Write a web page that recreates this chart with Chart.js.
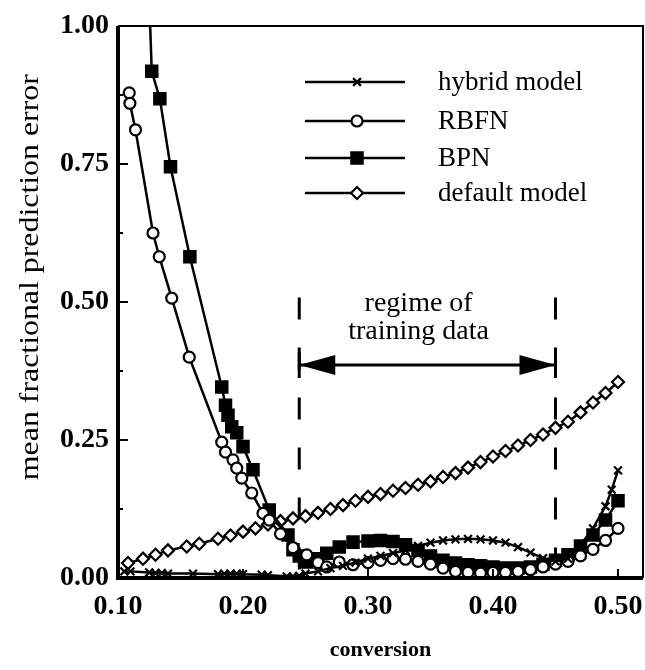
<!DOCTYPE html>
<html>
<head>
<meta charset="utf-8">
<script src="https://cdn.jsdelivr.net/npm/chart.js@4.4.0/dist/chart.umd.min.js"></script>
<style>
html, body { margin: 0; padding: 0; background: #fff; }
</style>
</head>
<body>
<canvas id="chart" width="645" height="670"></canvas>
<script>
// conversion values (x) and mean fractional prediction error (y)
let hybridX = [0.105, 0.11, 0.125, 0.13, 0.135, 0.14, 0.16, 0.18, 0.185, 0.19, 0.195, 0.20, 0.215, 0.22, 0.235, 0.24, 0.245,
    0.25, 0.26, 0.27, 0.28, 0.29, 0.30, 0.31, 0.32, 0.33, 0.34, 0.35, 0.36, 0.37, 0.38, 0.39, 0.40, 0.41, 0.42, 0.43, 0.44,
    0.45, 0.46, 0.47, 0.48, 0.49, 0.495, 0.50];
let hybridY = [0.012, 0.012, 0.010, 0.009, 0.009, 0.008, 0.008, 0.007, 0.008, 0.008, 0.008, 0.007, 0.006, 0.005, 0.003, 0.003, 0.004,
    0.008, 0.012, 0.018, 0.022, 0.028, 0.035, 0.040, 0.045, 0.050, 0.058, 0.064, 0.068, 0.070, 0.071, 0.070, 0.068, 0.064, 0.056, 0.046, 0.036,
    0.030, 0.035, 0.060, 0.090, 0.130, 0.160, 0.195];

let rbfnX = [0.109, 0.1095, 0.114, 0.128, 0.133, 0.143, 0.157, 0.183, 0.186, 0.192, 0.195, 0.199, 0.207, 0.216, 0.221, 0.23, 0.24,
    0.251, 0.26, 0.267, 0.277, 0.288, 0.30, 0.31, 0.32, 0.33, 0.34, 0.35, 0.36, 0.37, 0.38, 0.39, 0.40, 0.41, 0.42, 0.43, 0.44,
    0.45, 0.46, 0.47, 0.48, 0.49, 0.50];
let rbfnY = [0.879, 0.860, 0.812, 0.625, 0.582, 0.507, 0.400, 0.246, 0.228, 0.214, 0.199, 0.181, 0.154, 0.117, 0.105, 0.080, 0.055,
    0.042, 0.028, 0.020, 0.029, 0.024, 0.028, 0.032, 0.035, 0.034, 0.030, 0.025, 0.018, 0.012, 0.010, 0.009, 0.010, 0.010, 0.012, 0.015, 0.020,
    0.025, 0.030, 0.040, 0.052, 0.068, 0.090];

let bpnX = [0.1245, 0.127, 0.1335, 0.142, 0.1575, 0.183, 0.186, 0.188, 0.191, 0.195, 0.200, 0.208, 0.221, 0.236, 0.240, 0.245,
    0.251, 0.26, 0.267, 0.277, 0.288, 0.30, 0.31, 0.32, 0.33, 0.34, 0.35, 0.36, 0.37, 0.38, 0.39, 0.40, 0.41, 0.42, 0.43, 0.44,
    0.45, 0.46, 0.47, 0.48, 0.49, 0.50];
let bpnY = [1.08, 0.918, 0.868, 0.745, 0.582, 0.346, 0.313, 0.295, 0.274, 0.263, 0.238, 0.196, 0.123, 0.078, 0.051, 0.040,
    0.029, 0.035, 0.045, 0.056, 0.065, 0.067, 0.068, 0.066, 0.060, 0.050, 0.040, 0.032, 0.027, 0.024, 0.022, 0.020, 0.018, 0.018, 0.020, 0.025,
    0.032, 0.042, 0.058, 0.078, 0.105, 0.140];

let defaultX = [0.108, 0.12, 0.13, 0.14, 0.155, 0.165, 0.18, 0.19, 0.20, 0.21, 0.22, 0.23, 0.24, 0.25, 0.26, 0.27, 0.28, 0.29,
    0.30, 0.31, 0.32, 0.33, 0.34, 0.35, 0.36, 0.37, 0.38, 0.39, 0.40, 0.41, 0.42, 0.43, 0.44, 0.45, 0.46, 0.47, 0.48, 0.49, 0.50];
let defaultY = [0.027, 0.035, 0.042, 0.050, 0.057, 0.062, 0.071, 0.077, 0.084, 0.090, 0.097, 0.103, 0.108, 0.112, 0.118, 0.125, 0.132, 0.140,
    0.147, 0.152, 0.158, 0.163, 0.169, 0.175, 0.183, 0.190, 0.200, 0.210, 0.220, 0.230, 0.240, 0.250, 0.260, 0.272, 0.283, 0.300, 0.318, 0.335, 0.355];

let seriesNames = ['hybrid model', 'RBFN', 'BPN', 'default model'];
let xTicks = [0.10, 0.20, 0.30, 0.40, 0.50];
let yTicks = [0.00, 0.25, 0.50, 0.75, 1.00];
let regimeBounds = [0.245, 0.45];

const serif = "'Liberation Serif', 'Times New Roman', serif";

function points(xs, ys) {
    return xs.map((x, i) => ({ x: x, y: ys[i] }));
}

function series(name, xs, ys, style, radius, fill) {
    return {
        label: name,
        data: points(xs, ys),
        borderColor: '#000',
        borderWidth: 2.5,
        pointStyle: style,
        pointRadius: radius,
        pointBorderWidth: 2.2,
        pointBorderColor: '#000',
        pointBackgroundColor: fill,
        tension: 0
    };
}

let datasets = [
    series(seriesNames[0], hybridX, hybridY, 'crossRot', 5.5, '#000'),
    series(seriesNames[1], rbfnX, rbfnY, 'circle', 5.5, '#fff'),
    series(seriesNames[2], bpnX, bpnY, 'rect', 8, '#000'),
    series(seriesNames[3], defaultX, defaultY, 'rectRot', 6, '#fff')
];

// simple marker drawing for the legend
function marker(ctx, ds, x, y) {
    let r = ds.pointRadius;
    ctx.save();
    ctx.lineWidth = ds.pointBorderWidth;
    ctx.strokeStyle = '#000';
    ctx.fillStyle = ds.pointBackgroundColor;
    ctx.beginPath();
    if (ds.pointStyle === 'circle') {
        ctx.arc(x, y, r, 0, Math.PI * 2);
        ctx.fill(); ctx.stroke();
    } else if (ds.pointStyle === 'rect') {
        let s = r * Math.SQRT1_2;
        ctx.rect(x - s, y - s, 2 * s, 2 * s);
        ctx.fill(); ctx.stroke();
    } else if (ds.pointStyle === 'rectRot') {
        ctx.moveTo(x - r, y); ctx.lineTo(x, y - r); ctx.lineTo(x + r, y); ctx.lineTo(x, y + r);
        ctx.closePath();
        ctx.fill(); ctx.stroke();
    } else {
        let s = r * Math.SQRT1_2;
        ctx.moveTo(x - s, y - s); ctx.lineTo(x + s, y + s);
        ctx.moveTo(x + s, y - s); ctx.lineTo(x - s, y + s);
        ctx.stroke();
    }
    ctx.restore();
}

// dashed regime lines, arrow and its label
const regimePlugin = {
    id: 'regime',
    beforeDatasetsDraw(chart) {
        const ctx = chart.ctx;
        const xs = chart.scales.x, ys = chart.scales.y;
        const x1 = xs.getPixelForValue(regimeBounds[0]);
        const x2 = xs.getPixelForValue(regimeBounds[1]);
        ctx.save();
        ctx.strokeStyle = '#000';
        ctx.lineWidth = 3;
        ctx.setLineDash([22, 28]);
        [x1, x2].forEach(x => {
            ctx.beginPath();
            ctx.moveTo(x, ys.getPixelForValue(0.508));
            ctx.lineTo(x, ys.getPixelForValue(0.012));
            ctx.stroke();
        });
        ctx.setLineDash([]);
        const ay = ys.getPixelForValue(0.386);
        ctx.beginPath();
        ctx.moveTo(x1, ay); ctx.lineTo(x2, ay);
        ctx.stroke();
        ctx.beginPath();
        ctx.moveTo(x1, ay - 13); ctx.lineTo(x1, ay + 13);
        ctx.moveTo(x2, ay - 13); ctx.lineTo(x2, ay + 13);
        ctx.stroke();
        ctx.fillStyle = '#000';
        ctx.beginPath();
        ctx.moveTo(x1, ay); ctx.lineTo(x1 + 36, ay - 10); ctx.lineTo(x1 + 36, ay + 10); ctx.closePath();
        ctx.moveTo(x2, ay); ctx.lineTo(x2 - 36, ay - 10); ctx.lineTo(x2 - 36, ay + 10); ctx.closePath();
        ctx.fill();
        ctx.font = '28px ' + serif;
        ctx.textAlign = 'center';
        ctx.textBaseline = 'middle';
        const tx = xs.getPixelForValue(0.3405);
        ctx.fillText('regime of', tx, ys.getPixelForValue(0.497));
        ctx.fillText('training data', tx, ys.getPixelForValue(0.446));
        ctx.restore();
    }
};

// frame, inward ticks, y title and the legend
const framePlugin = {
    id: 'frame',
    afterDraw(chart) {
        const ctx = chart.ctx;
        const a = chart.chartArea;
        const xs = chart.scales.x, ys = chart.scales.y;
        ctx.save();
        ctx.strokeStyle = '#000';
        ctx.lineWidth = 2;
        ctx.beginPath();
        ctx.moveTo(a.left, a.top); ctx.lineTo(a.right, a.top); ctx.lineTo(a.right, a.bottom);
        ctx.stroke();
        ctx.lineWidth = 4;
        ctx.beginPath();
        ctx.moveTo(a.left, a.top); ctx.lineTo(a.left, a.bottom); ctx.lineTo(a.right, a.bottom);
        ctx.stroke();
        ctx.lineWidth = 2;
        ctx.beginPath();
        for (let v = 0; v <= 1.0001; v += 0.125) {
            const y = ys.getPixelForValue(v);
            const major = Math.abs(v / 0.25 - Math.round(v / 0.25)) < 1e-6;
            ctx.moveTo(a.left, y); ctx.lineTo(a.left + (major ? 10 : 5), y);
        }
        xTicks.forEach(v => {
            const x = xs.getPixelForValue(v);
            ctx.moveTo(x, a.bottom); ctx.lineTo(x, a.bottom - 9);
        });
        ctx.stroke();

        // y axis title, a little stretched along its length like the original
        ctx.save();
        ctx.translate(31, ys.getPixelForValue(0.545));
        ctx.rotate(-Math.PI / 2);
        ctx.scale(1.18, 1);
        ctx.font = '27px ' + serif;
        ctx.fillStyle = '#000';
        ctx.textAlign = 'center';
        ctx.textBaseline = 'middle';
        ctx.fillText('mean fractional prediction error', 0, 0);
        ctx.restore();

        // legend
        ctx.font = '27px ' + serif;
        ctx.fillStyle = '#000';
        ctx.textAlign = 'left';
        ctx.textBaseline = 'middle';
        const rows = [82, 121, 158, 193];
        chart.data.datasets.forEach((ds, i) => {
            const y = rows[i];
            ctx.lineWidth = 2.5;
            ctx.beginPath();
            ctx.moveTo(305, y); ctx.lineTo(405, y);
            ctx.stroke();
            marker(ctx, ds, 357, y);
            ctx.fillText(ds.label, 438, y + 1);
        });
        ctx.restore();
    }
};

const ctx = document.getElementById('chart').getContext('2d');
const chart = new Chart(ctx, {
    type: 'line',
    data: { datasets: datasets },
    options: {
        responsive: false,
        animation: false,
        layout: { autoPadding: false, padding: { top: 26, right: 2, left: 0, bottom: 0 } },
        plugins: {
            legend: { display: false },
            tooltip: { enabled: false }
        },
        scales: {
            x: {
                type: 'linear',
                min: 0.1,
                max: 0.52,
                grid: { display: false, drawTicks: false },
                border: { display: false },
                afterFit: s => { s.height = 92; s.paddingLeft = 0; s.paddingRight = 0; },
                ticks: {
                    stepSize: 0.1,
                    includeBounds: false,
                    padding: 12,
                    color: '#000',
                    font: { family: serif, size: 28, weight: 'bold' },
                    callback: v => v.toFixed(2)
                },
                title: {
                    display: true,
                    text: 'conversion',
                    color: '#000',
                    font: { family: serif, size: 22, weight: 'bold' },
                    padding: { top: 0, bottom: 6 }
                }
            },
            y: {
                min: 0,
                max: 1,
                grid: { display: false, drawTicks: false },
                border: { display: false },
                afterFit: s => { s.width = 118; s.paddingTop = 0; s.paddingBottom = 0; },
                ticks: {
                    stepSize: 0.25,
                    padding: 9,
                    color: '#000',
                    font: { family: serif, size: 28, weight: 'bold' },
                    callback: v => v.toFixed(2)
                }
            }
        }
    },
    plugins: [regimePlugin, framePlugin]
});
</script>
</body>
</html>
